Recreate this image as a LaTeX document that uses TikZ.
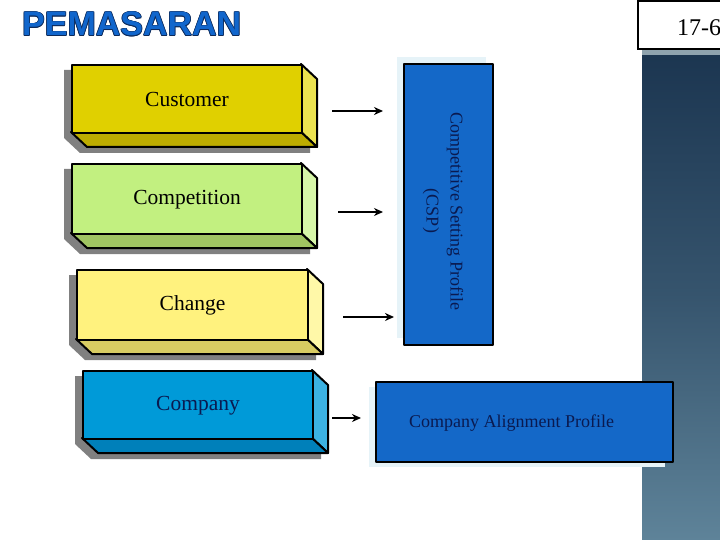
\documentclass[tikz,border=0pt]{standalone}
\usepackage{fontspec}
\setmainfont{Liberation Serif}
\newfontfamily\titlefont{Liberation Sans}
\usetikzlibrary{arrows.meta}
\definecolor{shadowc}{HTML}{808080}
\definecolor{custF}{HTML}{E0D000}
\definecolor{custS}{HTML}{EBE250}
\definecolor{custB}{HTML}{BDAC00}
\definecolor{compF}{HTML}{C2F080}
\definecolor{compS}{HTML}{D6F6A8}
\definecolor{compB}{HTML}{A0C462}
\definecolor{chgF}{HTML}{FFF27E}
\definecolor{chgS}{HTML}{FFF8A8}
\definecolor{chgB}{HTML}{D8CC62}
\definecolor{coF}{HTML}{009AD8}
\definecolor{coS}{HTML}{3CB2E2}
\definecolor{coB}{HTML}{0080BA}
\definecolor{profF}{HTML}{1468C8}
\definecolor{glow}{HTML}{E6F3F8}
\definecolor{navytext}{HTML}{0A1A50}
\definecolor{titleblue}{HTML}{1166CC}
\definecolor{titleline}{HTML}{0D2A5A}
\definecolor{stripTop}{HTML}{1B3550}
\definecolor{stripBot}{HTML}{5E8399}
\definecolor{stripBand}{HTML}{8FA3AE}
\tikzset{
  edge/.style={draw=black, line width=2pt, line join=round},
  boxlabel/.style={font=\fontsize{21.5}{24}\selectfont, inner sep=0pt},
  arrowline/.style={line width=2pt, -{Stealth[length=9pt,width=8pt]}},
  proftext/.style={font=\fontsize{18}{24}\selectfont, text=navytext, inner sep=0pt}
}
% #1 name, #2 x1, #3 y1, #4 x2, #5 y2, #6 front, #7 side, #8 bottom, #9 label y-shift, #10 text via \tdlabel
\newcommand{\tdbox}[9]{%
  \fill[shadowc] (#2-7,#3+6) -- (#4-7,#3+6) -- (#4+9,#3+21) -- (#4+9,#5+21)
     -- (#2+9,#5+21) -- (#2-7,#5+6) -- cycle;
  \filldraw[edge, fill=#7] (#4,#3) -- (#4+16,#3+15) -- (#4+16,#5+15) -- (#4,#5) -- cycle;
  \filldraw[edge, fill=#8] (#2,#5) -- (#4,#5) -- (#4+16,#5+15) -- (#2+16,#5+15) -- cycle;
  \node[edge, fill=#6, inner sep=0pt, minimum width={(#4-#2)*1pt}, minimum height={(#5-#3)*1pt},
        anchor=north west] (#1) at (#2,#3) {};
  \node[boxlabel] (#1-label) at ([yshift=-0.5pt]#1.center) {#9};
}
\begin{document}
\begin{tikzpicture}[x=1pt, y=-1pt]
\useasboundingbox (0,0) rectangle (720,540);
\fill[white] (0,0) rectangle (720,540);
% right decorative strip
\shade[top color=stripTop, bottom color=stripBot, middle color=stripTop!60!stripBot] (642,48) rectangle (720,540);
\fill[stripBand] (642,48) rectangle (720,55);
% page number box
\node[draw=black, line width=2pt, fill=white, inner sep=0pt, minimum width=88pt, minimum height=48pt, anchor=north west] (pagebox) at (637,0) {};
\node[font=\fontsize{24}{26}\selectfont, anchor=west, inner sep=0pt] (pagenum) at (677,28) {17-6};
% title with outline
\foreach \dx/\dy in {0.7/0,-0.7/0,0/0.7,0/-0.7,0.5/0.5,-0.5/0.5,0.5/-0.5,-0.5/-0.5}
  \node[font=\titlefont\bfseries\fontsize{34}{36}\selectfont, text=titleline, anchor=west, inner sep=0pt] at (22+\dx,24+\dy) {PEMASARAN};
\node[font=\titlefont\bfseries\fontsize{34}{36}\selectfont, text=titleblue, anchor=west, inner sep=0pt] (title) at (22,24) {PEMASARAN};
% 3D boxes
\tdbox{customer}{71}{64}{301}{132}{custF}{custS}{custB}{Customer}
\tdbox{competition}{71}{163}{301}{233}{compF}{compS}{compB}{Competition}
\tdbox{change}{76}{269}{307}{339}{chgF}{chgS}{chgB}{Change}
\tdbox{company}{82}{370}{312}{438}{coF}{coS}{coB}{\textcolor{navytext}{Company}}
% CSP box
\fill[glow] (397,57) rectangle (486,338);
\node[edge, fill=profF, inner sep=0pt, minimum width=89pt, minimum height=281pt, anchor=north west] (csp) at (403,63) {};
\node[proftext, rotate=-90, align=center] (csptext) at (443,211) {Competitive Setting Profile\\(CSP)};
% CAP box
\fill[glow] (369,387) rectangle (665,467);
\node[edge, fill=profF, inner sep=0pt, minimum width=297pt, minimum height=80pt, anchor=north west] (cap) at (375,381) {};
\node[proftext, anchor=west] (captext) at (409,423) {Company Alignment Profile};
% arrows
\coordinate (a1s) at (332,111); \coordinate (a1e) at (383,111);
\coordinate (a2s) at (338,212); \coordinate (a2e) at (383,212);
\coordinate (a3s) at (343,317); \coordinate (a3e) at (394,317);
\coordinate (a4s) at (332,418); \coordinate (a4e) at (361,418);
\draw[arrowline] (a1s) -- (a1e);
\draw[arrowline] (a2s) -- (a2e);
\draw[arrowline] (a3s) -- (a3e);
\draw[arrowline] (a4s) -- (a4e);
\end{tikzpicture}
\end{document}
